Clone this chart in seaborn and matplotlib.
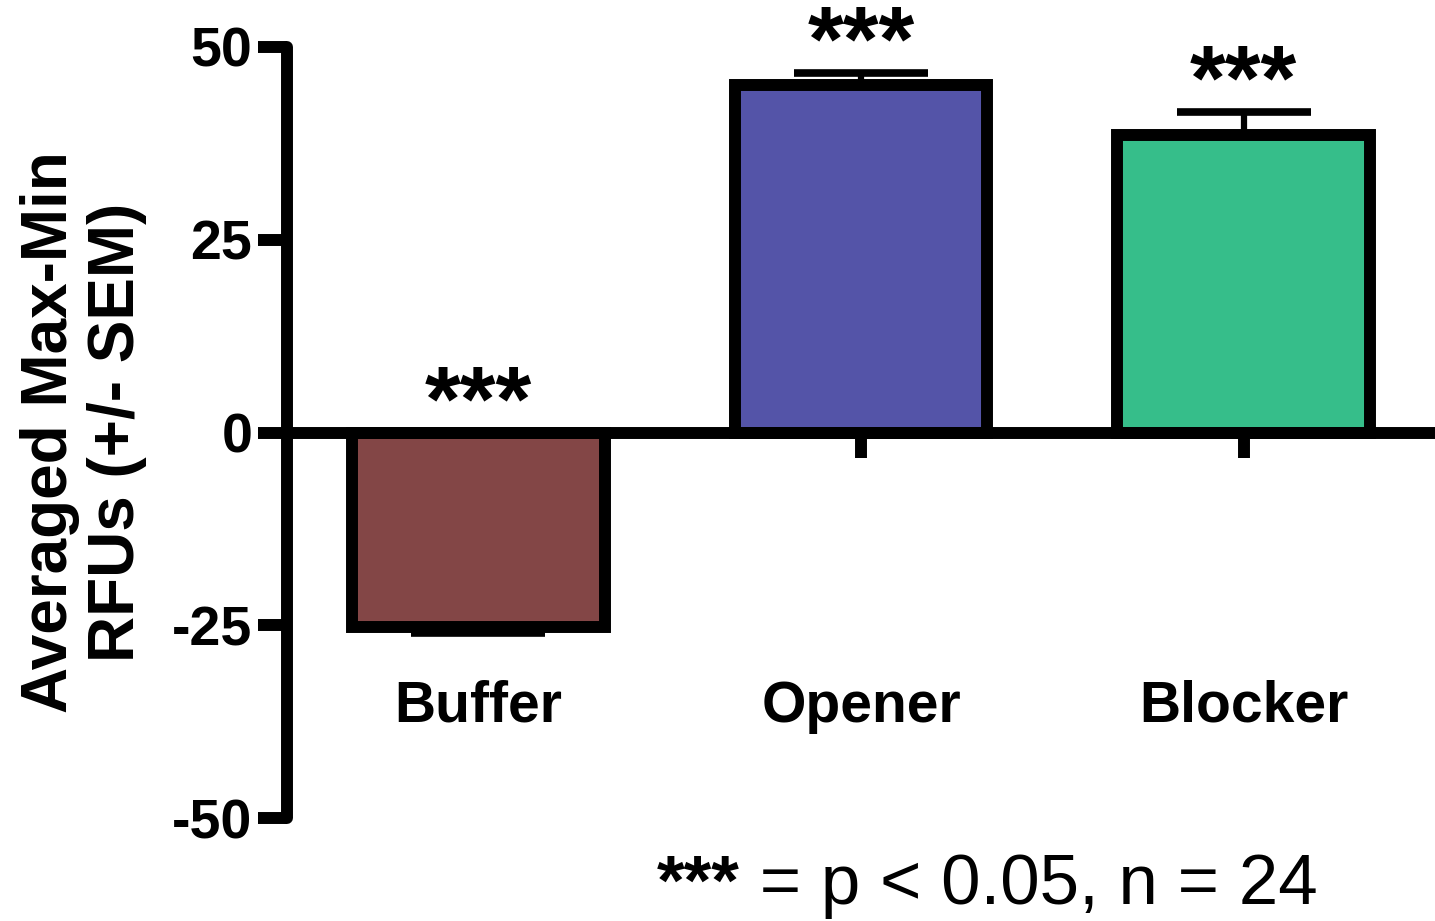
import matplotlib
matplotlib.use("Agg")
import matplotlib.pyplot as plt
import seaborn as sns
import pandas as pd

# Group means and SEM (RFU, n = 24)
groups = ["Buffer", "Opener", "Blocker"]
means = [-25.2, 45.1, 38.6]
sems = [0.8, 1.5, 3.0]
stars = ["***", "***", "***"]
bar_colors = ["#834646", "#5454A8", "#36BE8A"]
y_ticks = [-50, -25, 0, 25, 50]
footnote_bold = "***"
footnote_rest = " = p < 0.05, n = 24"

sns.set_theme(style="ticks")
plt.rcParams["font.family"] = ["Liberation Sans", "DejaVu Sans"]
plt.rcParams.update({"text.color": "black", "axes.labelcolor": "black",
                     "xtick.color": "black", "ytick.color": "black"})

df = pd.DataFrame({"group": groups, "mean": means})

fig = plt.figure(figsize=(14.35, 9.21), dpi=100)
ax = fig.add_axes([0.2, 0.1118, 0.8, 0.8372])

LW = 8.6
sns.barplot(data=df, x="group", y="mean", hue="group", palette=bar_colors,
            legend=False, width=0.66, errorbar=None, saturation=1, ax=ax,
            edgecolor="black", linewidth=LW, zorder=3)
for p in ax.patches:
    p.set_joinstyle("miter")

# one-sided error bars, pointing away from zero
lower = [s if m < 0 else 0 for m, s in zip(means, sems)]
upper = [s if m >= 0 else 0 for m, s in zip(means, sems)]
ax.errorbar(range(len(groups)), means, yerr=[lower, upper], fmt="none",
            ecolor="black", elinewidth=4.5, capsize=48, capthick=5.5,
            zorder=2)
for line in ax.lines:
    line.set_solid_capstyle("round")
for coll in ax.collections:
    coll.set_capstyle("round")

# significance marks above each group
for i, (m, s, st) in enumerate(zip(means, sems, stars)):
    top = max(m + s, 0)
    ax.annotate(st, xy=(i, top), xytext=(0, -12), textcoords="offset points",
                ha="center", va="bottom", fontsize=66, fontweight="bold",
                zorder=5)

# axis frame: x-axis runs through zero
ax.spines["top"].set_visible(False)
ax.spines["right"].set_visible(False)
ax.spines["bottom"].set_position(("data", 0))
for sp in ("left", "bottom"):
    ax.spines[sp].set_linewidth(LW)
    ax.spines[sp].set_color("black")
    ax.spines[sp].set_capstyle("round")
    ax.spines[sp].set_zorder(4)

ax.set_xlim(-0.5, 2.5)
ax.set_ylim(-50, 50)
ax.set_yticks(y_ticks)
ax.set_yticklabels([str(t) for t in y_ticks], fontsize=40, fontweight="bold")
ax.set_xticks(range(len(groups)))
ax.set_xticklabels(groups, fontsize=41, fontweight="bold")
ax.tick_params(axis="y", length=21, width=LW, direction="out", pad=4,
               colors="black")
ax.tick_params(axis="x", length=18, width=LW, direction="out", pad=160,
               colors="black")

ax.set_xlabel("")
ax.set_ylabel("Averaged Max-Min\nRFUs (+/- SEM)", fontsize=46,
              fontweight="bold", linespacing=1.15, labelpad=18)

rest = fig.text(0.918, 0.018, footnote_rest, ha="right", va="baseline",
                fontsize=51)
ax.annotate(footnote_bold, xy=(0, 0), xycoords=rest, ha="right",
            va="bottom", fontsize=51, fontweight="bold",
            annotation_clip=False)

fig.savefig("out.png", dpi=100)
